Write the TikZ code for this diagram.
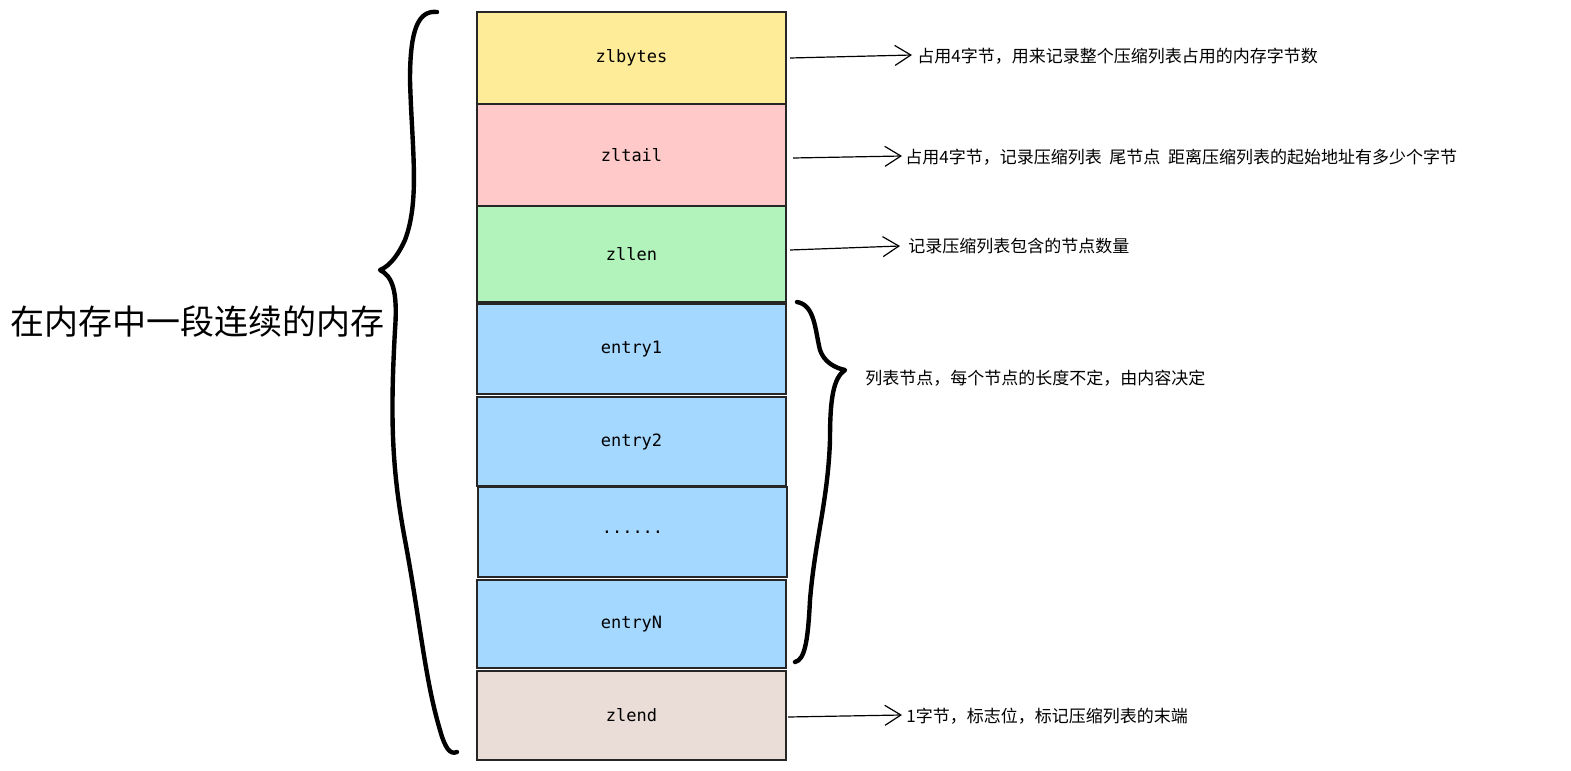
\documentclass[tikz,border=0pt]{standalone}
\usepackage{fontspec}
\newfontfamily\cjk{Noto Sans CJK SC}
\setmonofont{DejaVu Sans Mono}
\usetikzlibrary{arrows.meta}
\begin{document}
\begin{tikzpicture}[x=0.5pt,y=-0.5pt,
  cell/.style={draw=black!85,line width=1pt,minimum width=154.5pt,font=\ttfamily\fontsize{8.5}{10}\selectfont,inner sep=0pt},
  lab/.style={anchor=west,font=\cjk\fontsize{8.5}{10}\selectfont,inner sep=0pt},
  arr/.style={-{Straight Barb[length=8pt,width=10pt]},line width=0.6pt},
  brace/.style={line width=2.2pt,line cap=round,line join=round}]
\useasboundingbox (0,0) rectangle (1571,771);
\definecolor{cy}{HTML}{FFEC99}\definecolor{cp}{HTML}{FFC9C9}\definecolor{cg}{HTML}{B2F2BB}
\definecolor{cb}{HTML}{A5D8FF}\definecolor{cz}{HTML}{EADDD7}
\node[cell,fill=cy,minimum height=46pt] (b1) at (631.5,58) {zlbytes};
\node[cell,fill=cp,minimum height=51pt] (b2) at (631.5,155) {zltail};
\node[cell,fill=cg,minimum height=48pt] (b3) at (631.5,254) {zllen};
\node[cell,fill=cb,minimum height=45pt] (b4) at (631.5,349) {entry1};
\node[cell,fill=cb,minimum height=44.5pt] (b5) at (631.5,441.5) {entry2};
\node[cell,fill=cb,minimum height=45pt] (b6) at (632.5,532) {......};
\node[cell,fill=cb,minimum height=44pt] (b7) at (631.5,624) {entryN};
\node[cell,fill=cz,minimum height=44.5pt] (b8) at (631.5,715.5) {zlend};
\node[lab] (t1) at (917,56) {占用4字节，用来记录整个压缩列表占用的内存字节数};
\node[lab] (t2) at (905,157) {占用4字节，记录压缩列表\ \ 尾节点\ \ 距离压缩列表的起始地址有多少个字节};
\node[lab] (t3) at (908,246) {记录压缩列表包含的节点数量};
\node[lab] (t4) at (865,378) {列表节点，每个节点的长度不定，由内容决定};
\node[lab] (t5) at (906,716) {1字节，标志位，标记压缩列表的末端};
\node[anchor=west,font=\cjk\fontsize{17}{20}\selectfont,inner sep=0pt] (big) at (10,322) {在内存中一段连续的内存};
\coordinate (a1) at (790,58); \coordinate (e1) at (912,55);
\coordinate (a2) at (793,158); \coordinate (e2) at (902,156);
\coordinate (a3) at (790,250); \coordinate (e3) at (900,246);
\coordinate (a5) at (788,717); \coordinate (e5) at (902,715);
\draw[arr] (a1)--(e1); \draw[arr] (a2)--(e2); \draw[arr] (a3)--(e3); \draw[arr] (a5)--(e5);
\draw[brace] (437,12) .. controls (418,10) and (410,30) .. (410,80)
  .. controls (412,150) and (420,200) .. (405,240) .. controls (395,262) and (385,268) .. (380,270)
  .. controls (392,276) and (398,290) .. (395,330) .. controls (390,420) and (392,470) .. (405,540)
  .. controls (420,620) and (425,680) .. (440,730) .. controls (445,748) and (450,755) .. (457,752);
\draw[brace] (797,302) .. controls (815,305) and (815,330) .. (820,350)
  .. controls (824,362) and (835,368) .. (845,370) .. controls (833,378) and (830,400) .. (830,440)
  .. controls (828,500) and (815,540) .. (810,600) .. controls (808,640) and (805,660) .. (795,662);
\end{tikzpicture}
\end{document}
